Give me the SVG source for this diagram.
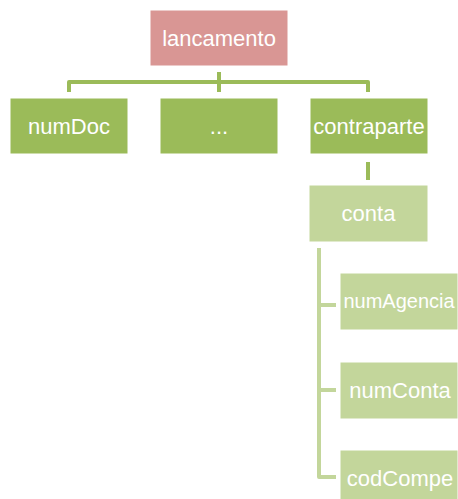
<svg xmlns="http://www.w3.org/2000/svg" width="458" height="499" viewBox="0 0 458 499">
<style>
.box{stroke:#ffffff;stroke-width:1}
.root{fill:#d99694}
.mid{fill:#9bbb59}
.low{fill:#c3d69b}
.lbl{font-family:"Liberation Sans",Arial,sans-serif;font-size:22px;fill:#ffffff;text-anchor:middle}
.c1{fill:none;stroke:#9bbb59;stroke-width:4;stroke-linejoin:round}
.c2{fill:none;stroke:#c3d69b;stroke-width:4;stroke-linejoin:round}
</style>
<rect width="458" height="499" fill="#ffffff"/>
<g id="connectors">
<path class="c1" d="M69,92 V82 H368 V92"/>
<path class="c1" d="M219,72 V92"/>
<path class="c1" d="M368,162 V180"/>
<path class="c2" d="M319,248 V477 H336"/>
<path class="c2" d="M319,305 H336"/>
<path class="c2" d="M319,390 H336"/>
</g>
<g id="lancamento"><rect class="box root" x="150" y="10" width="138" height="56"/><text class="lbl" x="219" y="46">lancamento</text></g>
<g id="numDoc"><rect class="box mid" x="10" y="98" width="118" height="56"/><text class="lbl" x="69" y="134">numDoc</text></g>
<g id="etc"><rect class="box mid" x="160" y="98" width="118" height="56"/><text class="lbl" x="219" y="134">...</text></g>
<g id="contraparte"><rect class="box mid" x="310" y="98" width="118" height="56"/><text class="lbl" x="369" y="134">contraparte</text></g>
<g id="conta"><rect class="box low" x="309" y="185" width="119" height="57"/><text class="lbl" x="368.5" y="221">conta</text></g>
<g id="numAgencia"><rect class="box low" x="340" y="273" width="118" height="57"/><text class="lbl" x="399" y="308" style="font-size:20px">numAgencia</text></g>
<g id="numConta"><rect class="box low" x="340" y="362" width="118" height="57"/><text class="lbl" x="400" y="398">numConta</text></g>
<g id="codCompe"><rect class="box low" x="340" y="450" width="118" height="57"/><text class="lbl" x="400" y="486">codCompe</text></g>
</svg>
